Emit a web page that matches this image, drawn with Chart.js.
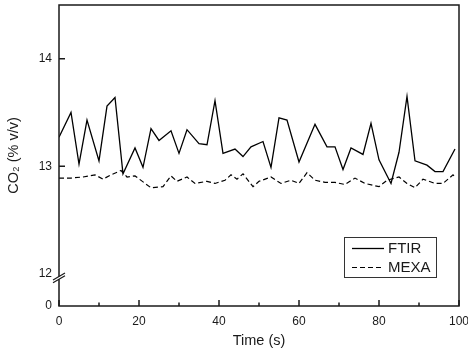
<!DOCTYPE html>
<html>
<head>
<meta charset="utf-8">
<script src="https://cdn.jsdelivr.net/npm/chart.js@4.4.0/dist/chart.umd.min.js"></script>
<style>
  html, body { margin: 0; padding: 0; background: #fff; }
</style>
</head>
<body>
<canvas id="co2Chart" width="468" height="348"></canvas>
<script>
// FTIR readings
var ftirTime = [0, 3, 5, 7, 10, 12, 14, 16, 19, 21, 23, 25, 28, 30, 32, 35, 37, 39, 41, 44, 46, 48, 51, 53, 55, 57, 60, 64, 67, 69, 71, 73, 76, 78, 80, 83, 85, 87, 89, 92, 94, 96, 99];
var ftirCO2 = [13.27, 13.50, 13.02, 13.43, 13.05, 13.56, 13.64, 12.93, 13.17, 12.99, 13.35, 13.24, 13.33, 13.12, 13.34, 13.21, 13.20, 13.61, 13.12, 13.16, 13.09, 13.18, 13.23, 12.99, 13.45, 13.43, 13.04, 13.39, 13.18, 13.18, 12.97, 13.17, 13.11, 13.40, 13.06, 12.84, 13.13, 13.65, 13.05, 13.01, 12.95, 12.95, 13.16];

// MEXA readings
var mexaTime = [0, 3, 6, 9, 11, 13, 15.5, 17, 19, 23, 26, 28, 29.5, 32, 34, 37, 39, 41.5, 43, 44.5, 46, 48.5, 50, 53, 55.5, 58, 60, 62, 64, 66.5, 69, 71.5, 74, 76.5, 80, 82, 85, 87, 89, 91, 94, 96, 98.5, 99.2];
var mexaCO2 = [12.89, 12.89, 12.90, 12.92, 12.88, 12.92, 12.96, 12.90, 12.91, 12.80, 12.81, 12.91, 12.86, 12.90, 12.84, 12.86, 12.84, 12.87, 12.92, 12.88, 12.93, 12.81, 12.86, 12.90, 12.84, 12.87, 12.84, 12.94, 12.87, 12.85, 12.85, 12.83, 12.89, 12.84, 12.81, 12.87, 12.90, 12.84, 12.80, 12.88, 12.84, 12.84, 12.92, 12.89];

var xTicks = [0, 20, 40, 60, 80, 100];
var xMinorTicks = [10, 30, 50, 70, 90];
var yTicks = [12, 13, 14];
var yBreakZero = 11.7;   // where the "0" sits below the axis break

var fontFamily = '"Liberation Sans", Arial, Helvetica, sans-serif';
var ink = '#1a1a1a';

function toPoints(xs, ys) {
    return xs.map(function (x, i) { return { x: x, y: ys[i] }; });
}

// box, inward ticks, axis break and legend
var framePlugin = {
    id: 'frame',
    afterDraw: function (chart) {
        var ctx = chart.ctx, a = chart.chartArea;
        var xs = chart.scales.x, ys = chart.scales.y;
        ctx.save();
        ctx.strokeStyle = ink;
        ctx.lineWidth = 1.5;
        ctx.strokeRect(a.left, a.top, a.right - a.left, a.bottom - a.top);

        ctx.beginPath();
        xTicks.forEach(function (v) {
            var px = xs.getPixelForValue(v);
            ctx.moveTo(px, a.bottom); ctx.lineTo(px, a.bottom - 6);
        });
        xMinorTicks.forEach(function (v) {
            var px = xs.getPixelForValue(v);
            ctx.moveTo(px, a.bottom); ctx.lineTo(px, a.bottom - 3.5);
        });
        [13, 14].forEach(function (v) {
            var py = ys.getPixelForValue(v);
            ctx.moveTo(a.left, py); ctx.lineTo(a.left + 6, py);
        });
        ctx.stroke();

        // axis break just under 12
        var by = ys.getPixelForValue(12) + 4;
        ctx.fillStyle = '#fff';
        ctx.beginPath();
        ctx.moveTo(a.left - 3, by + 0.5);
        ctx.lineTo(a.left + 3, by - 3);
        ctx.lineTo(a.left + 3, by);
        ctx.lineTo(a.left - 3, by + 3.5);
        ctx.closePath();
        ctx.fill();
        ctx.lineWidth = 1.2;
        ctx.beginPath();
        ctx.moveTo(a.left - 6, by + 2.2); ctx.lineTo(a.left + 6, by - 4.8);
        ctx.moveTo(a.left - 6, by + 5); ctx.lineTo(a.left + 6, by - 2);
        ctx.stroke();

        // legend
        var lx = a.right - 115, ly = a.bottom - 69;
        ctx.lineWidth = 1;
        ctx.strokeStyle = '#333';
        ctx.strokeRect(lx + 0.5, ly + 0.5, 92, 40);
        ctx.font = '15px ' + fontFamily;
        ctx.textBaseline = 'middle';
        ctx.fillStyle = ink;
        chart.data.datasets.forEach(function (ds, i) {
            var yy = ly + 11.5 + i * 19;
            ctx.strokeStyle = ds.borderColor;
            ctx.lineWidth = ds.borderWidth;
            ctx.setLineDash(ds.borderDash || []);
            ctx.beginPath();
            ctx.moveTo(lx + 8, yy); ctx.lineTo(lx + 40, yy);
            ctx.stroke();
            ctx.setLineDash([]);
            ctx.fillText(ds.label, lx + 44, yy);
        });
        ctx.restore();
    }
};

var ctx = document.getElementById('co2Chart').getContext('2d');
var co2Chart = new Chart(ctx, {
    type: 'line',
    data: {
        datasets: [{
            label: 'FTIR',
            data: toPoints(ftirTime, ftirCO2),
            borderColor: '#000',
            borderWidth: 1.3,
            pointRadius: 0,
            fill: false,
            tension: 0
        }, {
            label: 'MEXA',
            data: toPoints(mexaTime, mexaCO2),
            borderColor: '#000',
            borderWidth: 1.2,
            borderDash: [5, 3],
            pointRadius: 0,
            fill: false,
            tension: 0
        }]
    },
    options: {
        responsive: false,
        animation: false,
        layout: { padding: { top: 5, right: 9, left: 0, bottom: 0 } },
        plugins: {
            legend: { display: false },
            tooltip: { enabled: false }
        },
        scales: {
            x: {
                type: 'linear',
                min: 0,
                max: 100,
                grid: { display: false, drawTicks: false },
                border: { display: false },
                ticks: {
                    stepSize: 20,
                    padding: 8,
                    maxRotation: 0,
                    color: ink,
                    font: { family: fontFamily, size: 12 }
                },
                title: {
                    display: true,
                    text: 'Time (s)',
                    color: ink,
                    padding: { top: 0, bottom: -2 },
                    font: { family: fontFamily, size: 14.5 }
                },
                afterFit: function (scale) {
                    scale.height = 42;
                    scale.paddingLeft = 0;
                    scale.paddingRight = 0;
                }
            },
            y: {
                type: 'linear',
                min: yBreakZero,
                max: 14.5,
                grid: { display: false, drawTicks: false },
                border: { display: false },
                afterBuildTicks: function (scale) {
                    scale.ticks = [yBreakZero].concat(yTicks).map(function (v) { return { value: v }; });
                },
                ticks: {
                    padding: 7,
                    color: ink,
                    font: { family: fontFamily, size: 12 },
                    callback: function (v) { return v < 12 ? '0' : v; }
                },
                title: {
                    display: true,
                    text: 'CO\u2082 (% v/v)',
                    color: ink,
                    padding: { top: 5, bottom: 0 },
                    font: { family: fontFamily, size: 14.5 }
                },
                afterFit: function (scale) {
                    scale.width = 59;
                    scale.paddingTop = 0;
                    scale.paddingBottom = 0;
                }
            }
        }
    },
    plugins: [framePlugin]
});
</script>
</body>
</html>
